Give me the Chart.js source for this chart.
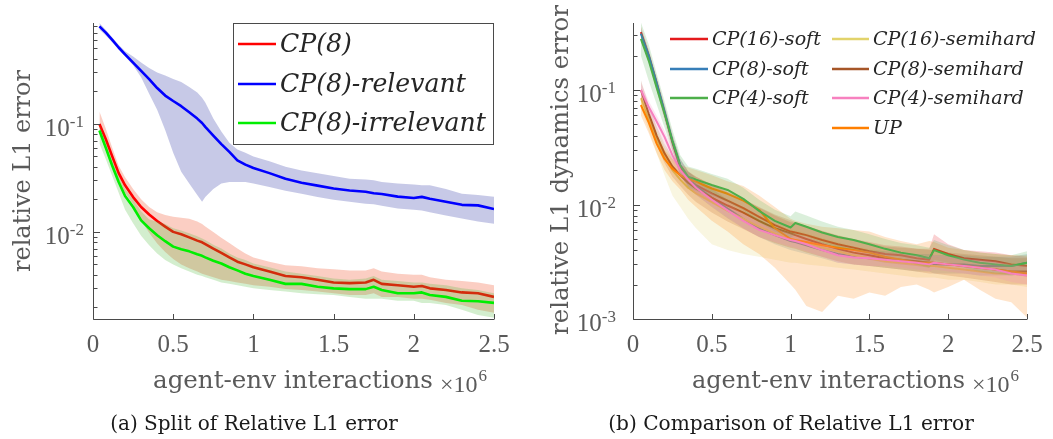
<!DOCTYPE html>
<html><head><meta charset="utf-8">
<script src="https://cdn.jsdelivr.net/npm/chart.js@4.4.1/dist/chart.umd.min.js"></script>
<style>
html,body{margin:0;padding:0;background:#fff;}
#wrap{position:relative;width:1053px;height:439px;overflow:hidden;background:#fff;}
canvas{position:absolute;top:0;}
#cA{left:0;} #cB{left:520px;}
</style></head><body>
<div id="wrap"><canvas id="cA" width="520" height="439"></canvas><canvas id="cB" width="533" height="439"></canvas></div>
<script>
// ---------------- data: panel (a) ----------------
const xA = [0.04,0.08,0.12,0.16,0.2,0.25,0.3,0.35,0.4,0.45,0.5,0.55,0.6,0.65,0.68,0.7,0.75,0.8,0.85,0.9,0.95,1.0,1.1,1.2,1.3,1.4,1.5,1.6,1.7,1.75,1.8,1.9,2.0,2.05,2.1,2.2,2.3,2.4,2.5];
const relevant   = [0.80,0.70,0.60,0.51,0.44,0.37,0.31,0.26,0.215,0.183,0.163,0.146,0.128,0.112,0.102,0.094,0.078,0.065,0.055,0.046,0.042,0.039,0.035,0.031,0.0285,0.0268,0.0252,0.0242,0.0235,0.0228,0.0224,0.0212,0.0206,0.0211,0.0203,0.019,0.0178,0.0176,0.0163];
const relevantHi = [0.86,0.74,0.63,0.54,0.47,0.42,0.37,0.33,0.30,0.28,0.26,0.245,0.22,0.195,0.175,0.158,0.112,0.085,0.067,0.058,0.054,0.050,0.045,0.040,0.037,0.035,0.033,0.031,0.0305,0.030,0.029,0.028,0.0275,0.027,0.027,0.025,0.0225,0.022,0.0212];
const relevantLo = [0.75,0.66,0.57,0.49,0.42,0.35,0.27,0.19,0.135,0.088,0.054,0.036,0.028,0.022,0.019,0.021,0.025,0.028,0.029,0.029,0.029,0.028,0.026,0.024,0.0225,0.021,0.0198,0.019,0.0182,0.018,0.0175,0.0165,0.016,0.0158,0.0152,0.0142,0.0133,0.0125,0.0119];
const cp8        = [0.100,0.072,0.050,0.035,0.027,0.021,0.017,0.0145,0.0126,0.0112,0.0100,0.0095,0.0089,0.0083,0.0080,0.0077,0.0070,0.0064,0.0058,0.0053,0.0050,0.0047,0.0043,0.0039,0.0038,0.0036,0.0034,0.00335,0.0034,0.0036,0.0033,0.0032,0.0031,0.00315,0.0030,0.0029,0.00275,0.0027,0.0025];
const cp8Hi      = [0.13,0.09,0.06,0.041,0.032,0.025,0.020,0.017,0.0152,0.0143,0.0138,0.0135,0.0132,0.0125,0.0118,0.0112,0.0100,0.0088,0.0079,0.0070,0.0063,0.0058,0.0053,0.0049,0.0048,0.0046,0.0045,0.0044,0.0044,0.0046,0.0043,0.0041,0.0040,0.0040,0.0038,0.0036,0.0035,0.0034,0.0032];
const cp8Lo      = [0.080,0.057,0.040,0.029,0.023,0.018,0.0128,0.0098,0.0078,0.0065,0.0056,0.0050,0.0046,0.0043,0.0041,0.0040,0.0038,0.0036,0.0035,0.0034,0.0033,0.0032,0.0031,0.00295,0.0029,0.0028,0.0027,0.0026,0.0026,0.0027,0.0025,0.0025,0.0024,0.0024,0.00235,0.0022,0.0021,0.0019,0.00178];
const irrelevant   = [0.087,0.060,0.041,0.029,0.0215,0.017,0.0128,0.0108,0.0093,0.0082,0.0073,0.0069,0.0066,0.0062,0.0060,0.0058,0.0054,0.0051,0.0047,0.0044,0.0041,0.0039,0.0036,0.0033,0.0033,0.0031,0.0030,0.00295,0.00295,0.0031,0.0029,0.0027,0.0027,0.00275,0.0026,0.0025,0.0023,0.00228,0.0022];
const irrelevantHi = [0.10,0.068,0.046,0.033,0.025,0.020,0.0155,0.013,0.0125,0.0118,0.0108,0.0103,0.0097,0.0091,0.0087,0.0084,0.0076,0.0070,0.0063,0.0058,0.0055,0.0051,0.0047,0.0043,0.0041,0.0039,0.0037,0.0036,0.0037,0.0039,0.0036,0.0035,0.0034,0.0034,0.0033,0.0032,0.0030,0.0029,0.0027];
const irrelevantLo = [0.066,0.047,0.033,0.023,0.016,0.012,0.0092,0.0075,0.0063,0.0055,0.0050,0.0046,0.0043,0.0040,0.0039,0.0038,0.0036,0.0034,0.0033,0.0032,0.0031,0.0030,0.0029,0.0028,0.0027,0.00265,0.0026,0.0025,0.0024,0.0024,0.0024,0.0023,0.0023,0.0022,0.0022,0.0021,0.0019,0.0017,0.0016];

// ---------------- data: panel (b) ----------------
const xB = [0.05,0.1,0.15,0.2,0.25,0.3,0.35,0.4,0.5,0.6,0.7,0.8,0.9,1.0,1.03,1.1,1.2,1.3,1.4,1.5,1.6,1.7,1.8,1.88,1.91,2.0,2.1,2.2,2.3,2.4,2.5];
const cp16soft   = [0.32,0.20,0.115,0.064,0.035,0.021,0.0165,0.0148,0.0125,0.0108,0.0093,0.0078,0.0066,0.0058,0.0057,0.0054,0.0049,0.0045,0.0042,0.0039,0.0037,0.0036,0.0034,0.0033,0.0041,0.0037,0.0034,0.0033,0.0032,0.0030,0.0029];
const cp16softLo = [0.28,0.175,0.10,0.055,0.030,0.018,0.0140,0.0125,0.0104,0.0090,0.0077,0.0064,0.0054,0.0048,0.0047,0.0045,0.0041,0.0038,0.0035,0.0033,0.0031,0.0030,0.0029,0.0028,0.0033,0.0031,0.0029,0.0028,0.0027,0.0025,0.0024];
const cp16softHi = [0.36,0.225,0.13,0.074,0.041,0.025,0.0195,0.0175,0.0150,0.0130,0.0112,0.0094,0.0080,0.0070,0.0069,0.0065,0.0059,0.0054,0.0050,0.0047,0.0044,0.0043,0.0041,0.0041,0.0055,0.0045,0.0040,0.0039,0.0038,0.0036,0.0035];
const cp8soft    = [0.31,0.20,0.115,0.065,0.036,0.022,0.017,0.0145,0.0115,0.0092,0.0075,0.0062,0.0054,0.0048,0.0047,0.0044,0.0040,0.0037,0.0035,0.0034,0.0033,0.0032,0.0031,0.0031,0.0030,0.0030,0.0030,0.0029,0.0029,0.0029,0.0031];
const cp8softLo  = [0.28,0.18,0.103,0.058,0.032,0.019,0.0145,0.0122,0.0095,0.0076,0.0062,0.0052,0.0045,0.0040,0.0039,0.0037,0.0034,0.0031,0.0030,0.0029,0.0028,0.0027,0.0026,0.0026,0.0025,0.0025,0.0025,0.0024,0.0024,0.0024,0.0025];
const cp8softHi  = [0.34,0.22,0.127,0.072,0.040,0.025,0.0195,0.0170,0.0137,0.0110,0.0090,0.0074,0.0064,0.0057,0.0056,0.0052,0.0047,0.0044,0.0041,0.0040,0.0039,0.0038,0.0037,0.0037,0.0036,0.0036,0.0036,0.0035,0.0035,0.0035,0.0037];
const cp4soft    = [0.28,0.18,0.105,0.062,0.036,0.022,0.0175,0.0165,0.0148,0.0134,0.0112,0.0088,0.0072,0.0063,0.0069,0.0064,0.0057,0.0052,0.0049,0.0045,0.0041,0.0038,0.0036,0.0034,0.0040,0.0036,0.0033,0.0031,0.0030,0.0029,0.0031];
const cp4softLo  = [0.20,0.12,0.075,0.047,0.029,0.018,0.0142,0.0132,0.0118,0.0106,0.0089,0.0070,0.0058,0.0051,0.0055,0.0052,0.0046,0.0042,0.0040,0.0037,0.0034,0.0032,0.0030,0.0028,0.0032,0.0030,0.0028,0.0026,0.0025,0.0024,0.0025];
const cp4softHi  = [0.39,0.25,0.14,0.080,0.045,0.027,0.0215,0.0205,0.0185,0.0168,0.0140,0.0110,0.0090,0.0079,0.0087,0.0080,0.0071,0.0064,0.0060,0.0055,0.0050,0.0046,0.0044,0.0042,0.0049,0.0044,0.0040,0.0038,0.0037,0.0036,0.0039];
const cp16semi   = [0.085,0.055,0.037,0.026,0.020,0.0165,0.014,0.0125,0.0105,0.0088,0.0075,0.0064,0.0056,0.0050,0.0049,0.0046,0.0042,0.0039,0.0036,0.0034,0.0032,0.0031,0.0030,0.0029,0.0029,0.0028,0.0027,0.0026,0.0025,0.0025,0.0024];
const cp16semiLo = [0.070,0.044,0.028,0.018,0.012,0.0095,0.0075,0.0062,0.0045,0.0040,0.0037,0.0035,0.0033,0.0031,0.0031,0.0030,0.0029,0.0028,0.0027,0.0026,0.0025,0.0024,0.0023,0.0023,0.0023,0.0022,0.0022,0.0021,0.0020,0.0020,0.0019];
const cp16semiHi = [0.100,0.066,0.045,0.032,0.025,0.021,0.018,0.016,0.0135,0.0112,0.0095,0.0080,0.0069,0.0061,0.0060,0.0056,0.0051,0.0047,0.0043,0.0041,0.0039,0.0037,0.0036,0.0035,0.0035,0.0034,0.0033,0.0032,0.0031,0.0031,0.0030];
const cp8semi    = [0.10,0.062,0.040,0.028,0.0215,0.018,0.0155,0.0138,0.0115,0.0098,0.0085,0.0072,0.0062,0.0056,0.0054,0.0050,0.0045,0.0041,0.0038,0.0036,0.0034,0.0033,0.0032,0.0031,0.0031,0.0030,0.0029,0.0028,0.0027,0.0026,0.0026];
const cp8semiLo  = [0.085,0.052,0.033,0.023,0.0175,0.0145,0.0122,0.0105,0.0085,0.0071,0.0061,0.0052,0.0046,0.0042,0.0041,0.0038,0.0035,0.0032,0.0030,0.0029,0.0028,0.0027,0.0026,0.0025,0.0025,0.0024,0.0023,0.0022,0.0021,0.0020,0.0020];
const cp8semiHi  = [0.122,0.074,0.048,0.034,0.026,0.022,0.0192,0.0175,0.0148,0.0128,0.0112,0.0095,0.0082,0.0073,0.0070,0.0065,0.0058,0.0053,0.0049,0.0046,0.0043,0.0042,0.0041,0.0040,0.0040,0.0038,0.0037,0.0036,0.0035,0.0034,0.0034];
const cp4semi    = [0.100,0.071,0.053,0.039,0.027,0.020,0.0165,0.014,0.011,0.0089,0.0072,0.0060,0.0054,0.0049,0.0048,0.0045,0.0040,0.0036,0.00345,0.0034,0.0033,0.0032,0.0031,0.0030,0.0031,0.0030,0.0029,0.0028,0.0027,0.0025,0.0024];
const cp4semiLo  = [0.088,0.063,0.046,0.034,0.0235,0.0175,0.0145,0.0122,0.0096,0.0077,0.0062,0.0052,0.0047,0.0043,0.0042,0.0039,0.0035,0.0031,0.0030,0.0029,0.0029,0.0028,0.0027,0.0026,0.0027,0.0026,0.0025,0.0024,0.0023,0.0021,0.0020];
const cp4semiHi  = [0.115,0.080,0.060,0.044,0.031,0.023,0.0188,0.016,0.0126,0.0102,0.0083,0.0069,0.0062,0.0056,0.0055,0.0052,0.0046,0.0041,0.0040,0.0039,0.0038,0.0037,0.0036,0.0035,0.0036,0.0035,0.0034,0.0033,0.0032,0.0030,0.0029];
const upv        = [0.074,0.052,0.034,0.025,0.0205,0.018,0.0168,0.0158,0.0138,0.0124,0.0108,0.0090,0.0062,0.0050,0.0049,0.0047,0.0044,0.0042,0.0040,0.0038,0.0035,0.0033,0.0031,0.0031,0.0031,0.0030,0.0029,0.0028,0.0027,0.0026,0.0025];
const upLo       = [0.060,0.042,0.028,0.020,0.016,0.0135,0.011,0.0095,0.0072,0.0058,0.0045,0.0037,0.0028,0.0020,0.0018,0.0013,0.00115,0.0016,0.0015,0.0017,0.0016,0.0019,0.0020,0.0018,0.0017,0.0019,0.0022,0.0018,0.0015,0.0014,0.00103];
const upHi       = [0.090,0.062,0.041,0.030,0.025,0.022,0.021,0.020,0.018,0.016,0.0145,0.012,0.0095,0.0075,0.0072,0.0068,0.0064,0.0062,0.0060,0.0058,0.0052,0.0048,0.0045,0.0048,0.0047,0.0042,0.0040,0.0038,0.0037,0.0036,0.0036];

// ---------------- ticks ----------------
const xTickVals   = [0, 0.5, 1, 1.5, 2, 2.5];
const xTickLabels = ['0', '0.5', '1', '1.5', '2', '2.5'];
const yTicksA = [0.01, 0.1];
const yTicksB = [0.001, 0.01, 0.1];

// ---------------- styling ----------------
const NUM = '"Liberation Serif", "DejaVu Serif", serif';
const TXT = '"DejaVu Serif", "Liberation Serif", serif';
const AXIS = '#4a4a4a', TICKC = '#5a5a5a';

function fitSize(ctx, text, width, style, fam) {
  ctx.font = style + ' 100px ' + fam;
  return 100 * width / ctx.measureText(text).width;
}

const figPlugin = {
  id: 'fig',
  afterDatasetsDraw(chart, args, o) {
    const ctx = chart.ctx, ca = chart.chartArea, sx = chart.scales.x, sy = chart.scales.y;
    ctx.save();
    ctx.strokeStyle = AXIS; ctx.lineWidth = 1;
    const L = Math.round(ca.left) + 0.5, B = Math.round(ca.bottom) + 0.5;
    ctx.beginPath();
    ctx.moveTo(L, ca.top); ctx.lineTo(L, B); ctx.lineTo(ca.right, B);
    xTickVals.forEach(v => { const p = Math.round(sx.getPixelForValue(v)) + 0.5; ctx.moveTo(p, B); ctx.lineTo(p, B - 5.5); });
    const e0 = Math.floor(Math.log10(sy.min)), e1 = Math.ceil(Math.log10(sy.max));
    for (let e = e0; e <= e1; e++) for (let k = 1; k < 10; k++) {
      const v = k * Math.pow(10, e);
      if (v < sy.min * 0.999 || v > sy.max) continue;
      const p = Math.round(sy.getPixelForValue(v)) + 0.5;
      ctx.moveTo(L, p); ctx.lineTo(L + (k === 1 ? 6.5 : 4), p);
    }
    ctx.stroke();
    ctx.fillStyle = TICKC; ctx.textBaseline = 'alphabetic';
    ctx.font = '25px ' + NUM; ctx.textAlign = 'center';
    xTickVals.forEach((v, i) => ctx.fillText(xTickLabels[i], sx.getPixelForValue(v), 352));
    o.yTicks.forEach(v => {
      const p = sy.getPixelForValue(v), sup = String(Math.round(Math.log10(v)));
      ctx.font = '17px ' + NUM; const sw = ctx.measureText(sup).width;
      ctx.textAlign = 'left'; ctx.fillText(sup, o.yLabRight - sw, p + 3);
      ctx.font = '25px ' + NUM; ctx.textAlign = 'right'; ctx.fillText('10', o.yLabRight - sw, p + 12);
    });
    ctx.save();
    ctx.translate(o.yTitle.x, o.yTitle.y); ctx.rotate(-Math.PI / 2);
    ctx.font = fitSize(ctx, o.yTitle.text, o.yTitle.w, '', TXT) + 'px ' + TXT;
    ctx.textAlign = 'center'; ctx.fillText(o.yTitle.text, 0, 0);
    ctx.restore();
    ctx.textAlign = 'left';
    ctx.font = fitSize(ctx, o.xTitle.text, o.xTitle.w, '', TXT) + 'px ' + TXT;
    ctx.fillText(o.xTitle.text, o.xTitle.x, o.xTitle.base);
    ctx.font = '24px ' + NUM;
    ctx.fillText('\u00d710', o.xTitle.mx, o.xTitle.base + 4);
    const mw = ctx.measureText('\u00d710').width;
    ctx.font = '17px ' + NUM;
    ctx.fillText('6', o.xTitle.mx + mw + 1, o.xTitle.base - 7);
    ctx.fillStyle = '#1a1a1a'; ctx.textAlign = 'center';
    ctx.font = fitSize(ctx, o.caption.text, o.caption.w, '', TXT) + 'px ' + TXT;
    ctx.fillText(o.caption.text, o.caption.cx, o.caption.base);
    const lg = o.legend;
    if (lg.box) {
      ctx.fillStyle = '#fff'; ctx.strokeStyle = AXIS; ctx.lineWidth = 1;
      ctx.fillRect(lg.box[0], lg.box[1], lg.box[2] - lg.box[0], lg.box[3] - lg.box[1]);
      ctx.strokeRect(lg.box[0] + 0.5, lg.box[1] + 0.5, lg.box[2] - lg.box[0], lg.box[3] - lg.box[1]);
    }
    const fs = fitSize(ctx, lg.ref, lg.refW, 'italic', TXT);
    ctx.font = 'italic ' + fs + 'px ' + TXT; ctx.textAlign = 'left'; ctx.textBaseline = 'middle';
    lg.series.forEach((s, i) => {
      const pos = lg.pos[i];
      ctx.strokeStyle = s.color; ctx.lineWidth = lg.lw;
      ctx.beginPath(); ctx.moveTo(pos[0], pos[2]); ctx.lineTo(pos[1], pos[2]); ctx.stroke();
      ctx.fillStyle = '#262626';
      ctx.fillText(s.name, pos[1] + 4, pos[2] + 1);
    });
    ctx.restore();
  }
};

function buildDatasets(xs, series, lw) {
  const ds = [];
  const pts = arr => arr.map((v, i) => ({ x: xs[i], y: v }));
  series.forEach((s, i) => {
    const z = 1000 - i * 10;
    const loIdx = ds.length;
    ds.push({ label: s.name + ' lo', data: pts(s.lo), borderWidth: 0, borderColor: 'rgba(0,0,0,0)', pointRadius: 0, fill: false, order: z });
    ds.push({ label: s.name + ' hi', data: pts(s.hi), borderWidth: 0, borderColor: 'rgba(0,0,0,0)', pointRadius: 0, backgroundColor: s.band, fill: loIdx, order: z - 1 });
    ds.push({ label: s.name, data: pts(s.vals), borderWidth: lw, borderColor: s.color, pointRadius: 0, fill: false, order: z - 2, borderJoinStyle: 'round' });
  });
  return ds;
}

function makeChart(id, xs, series, lw, yMin, yMax, pad, plug) {
  return new Chart(document.getElementById(id), {
    type: 'line',
    data: { datasets: buildDatasets(xs, series, lw) },
    options: {
      responsive: false, animation: false, devicePixelRatio: 1,
      layout: { padding: pad },
      scales: {
        x: { type: 'linear', min: 0, max: 2.5, display: false },
        y: { type: 'logarithmic', min: yMin, max: yMax, display: false }
      },
      plugins: { legend: { display: false }, tooltip: { enabled: false }, fig: plug }
    },
    plugins: [figPlugin]
  });
}

const seriesA = [
  { name: 'CP(8)-relevant', color: '#0000ff', band: 'rgba(30,40,160,0.25)', vals: relevant, lo: relevantLo, hi: relevantHi },
  { name: 'CP(8)', color: '#ff0000', band: 'rgba(240,80,40,0.28)', vals: cp8, lo: cp8Lo, hi: cp8Hi },
  { name: 'CP(8)-irrelevant', color: '#00ee00', band: 'rgba(70,185,50,0.24)', vals: irrelevant, lo: irrelevantLo, hi: irrelevantHi }
];
const legendA = [seriesA[1], seriesA[0], seriesA[2]];

const C = { red: '#e41a1c', blue: '#377eb8', green: '#4daf4a', yellow: '#e2d36b', brown: '#a65628', pink: '#f781bf', orange: '#ff7f00' };
const band = (r, g, b) => 'rgba(' + r + ',' + g + ',' + b + ',0.2)';
const seriesB = [
  { name: 'CP(16)-soft', color: C.red, band: band(228,26,28), vals: cp16soft, lo: cp16softLo, hi: cp16softHi },
  { name: 'CP(8)-soft', color: C.blue, band: band(55,126,184), vals: cp8soft, lo: cp8softLo, hi: cp8softHi },
  { name: 'CP(16)-semihard', color: C.yellow, band: band(226,211,107), vals: cp16semi, lo: cp16semiLo, hi: cp16semiHi },
  { name: 'CP(8)-semihard', color: C.brown, band: band(166,86,40), vals: cp8semi, lo: cp8semiLo, hi: cp8semiHi },
  { name: 'UP', color: C.orange, band: band(255,127,0), vals: upv, lo: upLo, hi: upHi },
  { name: 'CP(4)-soft', color: C.green, band: band(77,175,74), vals: cp4soft, lo: cp4softLo, hi: cp4softHi },
  { name: 'CP(4)-semihard', color: C.pink, band: band(247,129,191), vals: cp4semi, lo: cp4semiLo, hi: cp4semiHi }
];
const legendB = [seriesB[0], seriesB[1], seriesB[5], seriesB[2], seriesB[3], seriesB[6], seriesB[4]];

makeChart('cA', xA, seriesA, 2.6, 0.00156, 0.86, { left: 93, right: 26, top: 23, bottom: 120 }, {
  yTicks: yTicksA, yLabRight: 84,
  yTitle: { text: 'relative L1 error', x: 30, y: 171, w: 202 },
  xTitle: { text: 'agent-env interactions', x: 153, w: 280, base: 388, mx: 440 },
  caption: { text: '(a) Split of Relative L1 error', cx: 254, w: 288, base: 430 },
  legend: { box: [233, 23, 493, 144], ref: 'CP(8)-irrelevant', refW: 206, lw: 2.6, series: legendA,
            pos: [[238, 276, 44], [238, 276, 84], [238, 276, 123]] }
});

makeChart('cB', xB, seriesB, 2.0, 0.001, 0.385, { left: 113, right: 26, top: 23, bottom: 120 }, {
  yTicks: yTicksB, yLabRight: 96,
  yTitle: { text: 'relative L1 dynamics error', x: 48, y: 170, w: 330 },
  xTitle: { text: 'agent-env interactions', x: 172, w: 273, base: 388, mx: 452 },
  caption: { text: '(b) Comparison of Relative L1 error', cx: 271, w: 366, base: 430 },
  legend: { box: null, ref: 'CP(16)-semihard', refW: 163, lw: 2.4, series: legendB,
            pos: [[150, 188, 39], [150, 188, 69], [150, 188, 98], [312, 349, 39], [312, 349, 69], [312, 349, 98], [312, 349, 128]] }
});
</script>
</body></html>
